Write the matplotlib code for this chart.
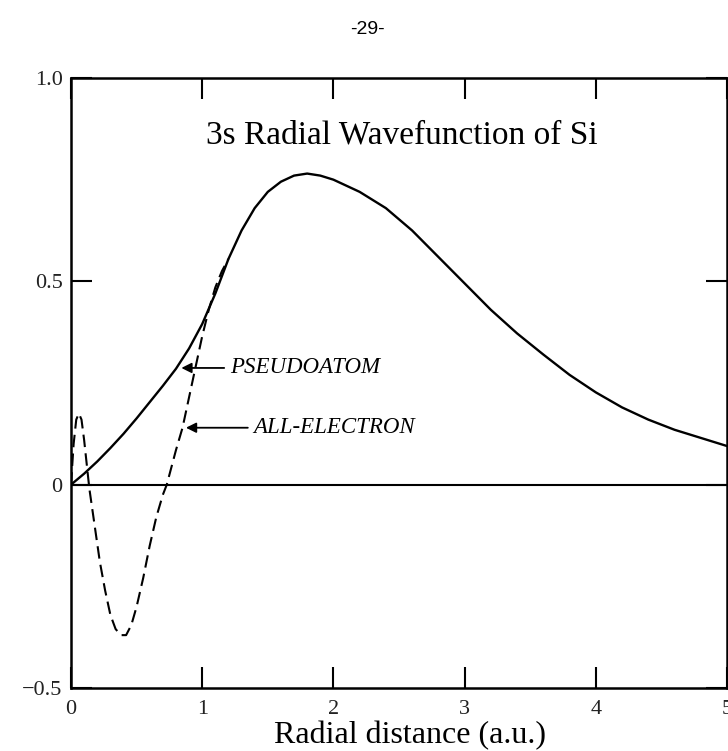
import numpy as np
import matplotlib
matplotlib.use('Agg')
import matplotlib.pyplot as plt

plt.rcParams['font.family'] = ['Liberation Serif', 'DejaVu Serif']
plt.rcParams['axes.unicode_minus'] = True

# pseudo wavefunction (solid)
r_pseudo = [0.0, 0.1, 0.2, 0.3, 0.4, 0.5, 0.6, 0.7, 0.8, 0.9, 1.0, 1.1, 1.2, 1.3, 1.4,
            1.5, 1.6, 1.7, 1.8, 1.9, 2.0, 2.2, 2.4, 2.6, 2.8, 3.0, 3.2, 3.4, 3.6, 3.8,
            4.0, 4.2, 4.4, 4.6, 4.8, 5.0]
psi_pseudo = [0.0, 0.027, 0.057, 0.09, 0.125, 0.163, 0.203, 0.243, 0.285, 0.335, 0.395,
              0.47, 0.555, 0.625, 0.68, 0.72, 0.745, 0.76, 0.765, 0.76, 0.75, 0.72, 0.68,
              0.625, 0.56, 0.495, 0.43, 0.372, 0.32, 0.27, 0.227, 0.19, 0.16, 0.135, 0.115,
              0.095]

# all-electron wavefunction (dashed), only where it differs from the pseudo one
r_ae = [0.0, 0.02, 0.04, 0.06, 0.08, 0.10, 0.12, 0.14, 0.18, 0.22, 0.26, 0.30, 0.34,
        0.38, 0.42, 0.46, 0.50, 0.55, 0.60, 0.65, 0.70, 0.73, 0.80, 0.85, 0.90, 0.95,
        1.00, 1.05, 1.10, 1.15, 1.20]
psi_ae = [0.0, 0.10, 0.16, 0.175, 0.16, 0.11, 0.05, -0.01, -0.10, -0.19, -0.26, -0.32,
          -0.355, -0.37, -0.37, -0.345, -0.30, -0.23, -0.15, -0.08, -0.025, 0.0, 0.085,
          0.14, 0.215, 0.29, 0.365, 0.43, 0.485, 0.525, 0.555]

x_ticks = [0, 1, 2, 3, 4, 5]
y_ticks = [-0.5, 0, 0.5, 1.0]
y_ticklabels = ['\u22120.5', '0', '0.5', '1.0']

fig = plt.figure(figsize=(7.28, 7.51), dpi=100)
ax = fig.add_axes([71 / 728, 63 / 751, 656 / 728, 610 / 751])

ax.plot(r_pseudo, psi_pseudo, color='black', lw=1.7)
ax.plot(r_ae, psi_ae, color='black', lw=1.5, dashes=(6, 3))
ax.axhline(0, color='black', lw=1.5)

ax.set_xlim(0, 5)
ax.set_ylim(-0.5, 1.0)
ax.set_xticks(x_ticks)
ax.set_xticklabels([str(t) for t in x_ticks])
ax.set_yticks(y_ticks)
ax.set_yticklabels(y_ticklabels)
ax.tick_params(direction='in', length=15, width=1.5, top=True, right=True,
               labelsize=16, colors='black', labelcolor='#222222')
ax.tick_params(axis='x', pad=9)
ax.tick_params(axis='y', pad=6)
for sp in ax.spines.values():
    sp.set_linewidth(1.8)

ax.text(2.52, 0.86, '3s Radial Wavefunction of Si', fontsize=24, ha='center', va='center')

# labels with arrows
ax.annotate('PSEUDOATOM', xy=(0.82, 0.287), xytext=(1.21, 0.287), fontsize=16.5,
            style='italic', va='center', ha='left',
            arrowprops=dict(arrowstyle='-|>', color='black', lw=1.3, mutation_scale=15))
ax.annotate('ALL-ELECTRON', xy=(0.855, 0.14), xytext=(1.39, 0.14), fontsize=16.5,
            style='italic', va='center', ha='left',
            arrowprops=dict(arrowstyle='-|>', color='black', lw=1.3, mutation_scale=15))

fig.text(410 / 728, 1 - 736 / 751, 'Radial distance (a.u.)', fontsize=23,
         ha='center', va='center')

fig.text(367 / 728, 1 - 29 / 751, '-29-', fontsize=14, ha='center', va='center',
         family='Liberation Sans')

fig.savefig('out.png', dpi=100)
